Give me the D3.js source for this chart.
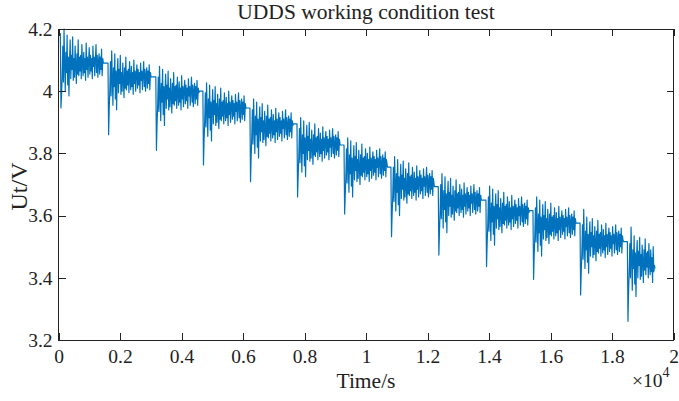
<!DOCTYPE html>
<html>
<head>
<meta charset="utf-8">
<script src="https://cdn.jsdelivr.net/npm/d3@7"></script>
<style>
  body { margin: 0; background: #fff; }
  text { font-family: "Liberation Serif", "Times New Roman", serif; fill: #222; }
</style>
</head>
<body>
<script>
// start of each UDDS cycle (s) and the voltage held just before it (mV)
const cycleStart = [60, 1610, 3165, 4695, 6225, 7755, 9285, 10810, 12350, 13900, 15430, 16960, 18500];
const restLevel = [4185, 4090, 4046, 4000, 3946, 3895, 3827, 3756, 3693, 3650, 3616, 3576, 3516];

// sample times inside a cycle (s after cycle start)
const sampleOffset = [20, 40, 60, 80, 100, 120, 140, 160, 180, 200, 220, 240, 260, 280, 300, 320, 340, 360, 380, 400,
  420, 440, 460, 480, 500, 520, 540, 560, 580, 600, 620, 640, 660, 680, 700, 720, 740, 760, 780, 800,
  820, 840, 860, 880, 900, 920, 940, 960, 980, 1000, 1020, 1040, 1060, 1080, 1100, 1120, 1140, 1160, 1180, 1200,
  1220, 1240, 1260, 1280, 1300, 1320, 1340, 1360, 1380, 1400];

// terminal voltage per cycle (mV)
const cycle1 = [3946, 3990, 4050, 4145, 4030, 4200, 4090, 4000, 4125, 4060, 4180,
  4020, 4110, 3985, 4100, 4165, 4040, 4115, 4070, 4175, 4035,
  4105, 4045, 4145, 4080, 4025, 4120, 4055, 4165, 4050, 4110,
  4065, 4115, 4040, 4150, 4085, 4050, 4125, 4060, 4105, 4035,
  4155, 4070, 4110, 4045, 4100, 4140, 4055, 4115, 4065, 4105,
  4040, 4145, 4080, 4110, 4050, 4100, 4150, 4060, 4115, 4045,
  4095, 4120, 4055, 4110, 4070, 4135, 4050, 4105, 4090];
const cycle2 = [3860, 3945, 4005, 4095, 3985, 4130, 4045, 3955, 4075, 4015, 4120,
  3975, 4065, 3940, 4055, 4105, 3995, 4070, 4025, 4115, 3990,
  4060, 4000, 4090, 4035, 3980, 4075, 4010, 4110, 4005, 4065,
  4020, 4070, 3995, 4095, 4040, 4005, 4080, 4015, 4060, 3990,
  4100, 4025, 4065, 4000, 4055, 4085, 4010, 4070, 4020, 4060,
  3995, 4090, 4035, 4065, 4005, 4055, 4095, 4015, 4070, 4000,
  4050, 4075, 4010, 4065, 4025, 4085, 4005, 4060, 4045];
const cycle3 = [3810, 3895, 3955, 4045, 3935, 4080, 3995, 3905, 4025, 3965, 4070,
  3925, 4015, 3890, 4005, 4055, 3945, 4020, 3975, 4065, 3940,
  4010, 3950, 4040, 3985, 3930, 4025, 3960, 4060, 3955, 4015,
  3970, 4020, 3945, 4045, 3990, 3955, 4030, 3965, 4010, 3940,
  4050, 3975, 4015, 3950, 4005, 4035, 3960, 4020, 3970, 4010,
  3945, 4040, 3985, 4015, 3955, 4005, 4045, 3965, 4020, 3950,
  4000, 4025, 3960, 4015, 3975, 4035, 3955, 4010, 3995];
const cycle4 = [3763, 3845, 3905, 3995, 3885, 4027, 3945, 3855, 3975, 3915, 4020,
  3875, 3965, 3840, 3955, 4005, 3895, 3970, 3925, 4015, 3890,
  3960, 3900, 3990, 3935, 3880, 3975, 3910, 4010, 3905, 3965,
  3920, 3970, 3895, 3995, 3940, 3905, 3980, 3915, 3960, 3890,
  4000, 3925, 3965, 3900, 3955, 3985, 3910, 3970, 3920, 3960,
  3895, 3990, 3935, 3965, 3905, 3955, 3995, 3915, 3970, 3900,
  3950, 3975, 3910, 3965, 3925, 3985, 3905, 3960, 3945];
const cycle5 = [3709, 3790, 3850, 3940, 3830, 3975, 3890, 3800, 3920, 3860, 3965,
  3820, 3910, 3785, 3900, 3950, 3840, 3915, 3870, 3960, 3835,
  3905, 3845, 3935, 3880, 3825, 3920, 3855, 3955, 3850, 3910,
  3865, 3915, 3840, 3940, 3885, 3850, 3925, 3860, 3905, 3835,
  3945, 3870, 3910, 3845, 3900, 3930, 3855, 3915, 3865, 3905,
  3840, 3935, 3880, 3910, 3850, 3900, 3940, 3860, 3915, 3845,
  3895, 3920, 3855, 3910, 3870, 3930, 3850, 3905, 3890];
const cycle6 = [3660, 3730, 3790, 3880, 3770, 3915, 3830, 3740, 3860, 3800, 3905,
  3760, 3850, 3725, 3840, 3890, 3780, 3855, 3810, 3900, 3775,
  3845, 3785, 3875, 3820, 3765, 3860, 3795, 3895, 3790, 3850,
  3805, 3855, 3780, 3880, 3825, 3790, 3865, 3800, 3845, 3775,
  3885, 3810, 3850, 3785, 3840, 3870, 3795, 3855, 3805, 3845,
  3780, 3875, 3820, 3850, 3790, 3840, 3880, 3800, 3855, 3785,
  3835, 3860, 3795, 3850, 3810, 3870, 3790, 3845, 3830];
const cycle7 = [3605, 3665, 3725, 3815, 3705, 3850, 3765, 3675, 3795, 3735, 3840,
  3695, 3785, 3660, 3775, 3825, 3715, 3790, 3745, 3835, 3710,
  3780, 3720, 3810, 3755, 3700, 3795, 3730, 3830, 3725, 3785,
  3740, 3790, 3715, 3815, 3760, 3725, 3800, 3735, 3780, 3710,
  3820, 3745, 3785, 3720, 3775, 3805, 3730, 3790, 3740, 3780,
  3715, 3810, 3755, 3785, 3725, 3775, 3815, 3735, 3790, 3720,
  3770, 3795, 3730, 3785, 3745, 3805, 3725, 3780, 3765];
const cycle8 = [3532, 3605, 3665, 3755, 3645, 3790, 3705, 3615, 3735, 3675, 3780,
  3635, 3725, 3600, 3715, 3765, 3655, 3730, 3685, 3775, 3650,
  3720, 3660, 3750, 3695, 3640, 3735, 3670, 3770, 3665, 3725,
  3680, 3730, 3655, 3755, 3700, 3665, 3740, 3675, 3720, 3650,
  3760, 3685, 3725, 3660, 3715, 3745, 3670, 3730, 3680, 3720,
  3655, 3750, 3695, 3725, 3665, 3715, 3755, 3675, 3730, 3660,
  3710, 3735, 3670, 3725, 3685, 3745, 3665, 3720, 3705];
const cycle9 = [3473, 3550, 3610, 3700, 3590, 3735, 3650, 3560, 3680, 3620, 3725,
  3580, 3670, 3545, 3660, 3710, 3600, 3675, 3630, 3720, 3595,
  3665, 3605, 3695, 3640, 3585, 3680, 3615, 3715, 3610, 3670,
  3625, 3675, 3600, 3700, 3645, 3610, 3685, 3620, 3665, 3595,
  3705, 3630, 3670, 3605, 3660, 3690, 3615, 3675, 3625, 3665,
  3600, 3695, 3640, 3670, 3610, 3660, 3700, 3620, 3675, 3605,
  3655, 3680, 3615, 3670, 3630, 3690, 3610, 3665, 3650];
const cycle10 = [3436, 3510, 3570, 3660, 3550, 3695, 3610, 3520, 3640, 3580, 3685,
  3540, 3630, 3505, 3620, 3670, 3560, 3635, 3590, 3680, 3555,
  3625, 3565, 3655, 3600, 3545, 3640, 3575, 3675, 3570, 3630,
  3585, 3635, 3560, 3660, 3605, 3570, 3645, 3580, 3625, 3555,
  3665, 3590, 3630, 3565, 3620, 3650, 3575, 3635, 3585, 3625,
  3560, 3655, 3600, 3630, 3570, 3620, 3660, 3580, 3635, 3565,
  3615, 3640, 3575, 3630, 3590, 3650, 3570, 3625, 3610];
const cycle11 = [3395, 3475, 3535, 3625, 3515, 3660, 3575, 3485, 3605, 3545, 3650,
  3505, 3595, 3470, 3585, 3635, 3525, 3600, 3555, 3645, 3520,
  3590, 3530, 3620, 3565, 3510, 3605, 3540, 3640, 3535, 3595,
  3550, 3600, 3525, 3625, 3570, 3535, 3610, 3545, 3590, 3520,
  3630, 3555, 3595, 3530, 3585, 3615, 3540, 3600, 3550, 3590,
  3525, 3620, 3565, 3595, 3535, 3585, 3625, 3545, 3600, 3530,
  3580, 3605, 3540, 3595, 3555, 3615, 3535, 3590, 3575];
const cycle12 = [3345, 3420, 3480, 3570, 3460, 3620, 3520, 3430, 3550, 3490, 3595,
  3450, 3540, 3415, 3530, 3580, 3470, 3545, 3500, 3590, 3465,
  3535, 3475, 3565, 3510, 3455, 3550, 3485, 3585, 3480, 3540,
  3495, 3545, 3470, 3570, 3515, 3480, 3555, 3490, 3535, 3465,
  3575, 3500, 3540, 3475, 3530, 3560, 3485, 3545, 3495, 3535,
  3470, 3565, 3510, 3540, 3480, 3530, 3570, 3490, 3545, 3475,
  3525, 3550, 3485, 3540, 3500, 3560, 3480, 3535, 3520];
const cycle13 = [3260, 3360, 3420, 3510, 3400, 3563, 3460, 3360, 3490, 3430, 3535,
  3380, 3480, 3340, 3470, 3520, 3400, 3485, 3440, 3530, 3395,
  3475, 3405, 3505, 3450, 3385, 3490, 3425, 3525, 3410, 3480,
  3435, 3485, 3400, 3510, 3445, 3410, 3490, 3420, 3465, 3385,
  3500, 3420, 3440, 3430];
const cycles = [cycle1, cycle2, cycle3, cycle4, cycle5, cycle6, cycle7, cycle8, cycle9, cycle10, cycle11, cycle12, cycle13];

const xTicks = [0, 2000, 4000, 6000, 8000, 10000, 12000, 14000, 16000, 18000, 20000];
const xTickLabels = ["0", "0.2", "0.4", "0.6", "0.8", "1", "1.2", "1.4", "1.6", "1.8", "2"];
const yTicks = [3.2, 3.4, 3.6, 3.8, 4.0, 4.2];
const yTickLabels = ["3.2", "3.4", "3.6", "3.8", "4", "4.2"];

// build the (time, voltage) series
const points = [];
cycles.forEach((vals, k) => {
  const restFrom = k === 0 ? 0 : cycleStart[k - 1] + sampleOffset[cycles[k - 1].length - 1] + 14;
  points.push({ t: restFrom, v: restLevel[k] / 1000 });
  points.push({ t: cycleStart[k], v: restLevel[k] / 1000 });
  vals.forEach((mv, i) => points.push({ t: cycleStart[k] + sampleOffset[i], v: mv / 1000 }));
});

const W = 679, H = 401;
const L = 58.5, R = 673.5, T = 29, B = 340;

const svg = d3.select("body").append("svg")
  .attr("width", W)
  .attr("height", H);

const x = d3.scaleLinear().domain([0, 20000]).range([L, R]);
const y = d3.scaleLinear().domain([3.2, 4.2]).range([B, T]);

// data line
svg.append("path")
  .datum(points)
  .attr("fill", "none")
  .attr("stroke", "#0072BD")
  .attr("stroke-width", 1.2)
  .attr("stroke-linejoin", "round")
  .attr("d", d3.line().x(d => x(d.t)).y(d => y(d.v)));

// axes, ticks pointing inward on all four sides
const fontSize = "19.5px";
svg.append("g")
  .attr("transform", "translate(0," + B + ")")
  .call(d3.axisBottom(x).tickValues(xTicks).tickSizeInner(-7).tickSizeOuter(0).tickPadding(9)
    .tickFormat((d, i) => xTickLabels[i]));
svg.append("g")
  .attr("transform", "translate(" + L + ",0)")
  .call(d3.axisLeft(y).tickValues(yTicks).tickSizeInner(-7).tickSizeOuter(0).tickPadding(6)
    .tickFormat((d, i) => yTickLabels[i]));
svg.append("g")
  .attr("transform", "translate(0," + T + ")")
  .call(d3.axisTop(x).tickValues(xTicks).tickSizeInner(-7).tickSizeOuter(0).tickFormat(""));
svg.append("g")
  .attr("transform", "translate(" + R + ",0)")
  .call(d3.axisRight(y).tickValues(yTicks).tickSizeInner(-7).tickSizeOuter(0).tickFormat(""));

svg.selectAll(".domain").remove();
svg.selectAll(".tick line").attr("stroke", "#222").attr("shape-rendering", "crispEdges");
svg.selectAll(".tick text")
  .style("font-family", "'Liberation Serif', 'Times New Roman', serif")
  .style("font-size", fontSize)
  .attr("fill", "#222");

svg.append("rect")
  .attr("x", L).attr("y", T)
  .attr("width", R - L).attr("height", B - T)
  .attr("fill", "none")
  .attr("stroke", "#222")
  .attr("shape-rendering", "crispEdges");

// titles
svg.append("text")
  .attr("x", (L + R) / 2).attr("y", 19)
  .attr("text-anchor", "middle")
  .style("font-size", "21.5px")
  .text("UDDS working condition test");

svg.append("text")
  .attr("x", 366).attr("y", 388)
  .attr("text-anchor", "middle")
  .style("font-size", "21.5px")
  .text("Time/s");

svg.append("text")
  .attr("transform", "translate(26.5,186.5) rotate(-90)")
  .attr("text-anchor", "middle")
  .style("font-size", "24px")
  .text("Ut/V");

const mult = svg.append("text")
  .attr("x", 632).attr("y", 387)
  .style("font-size", fontSize);
mult.append("tspan").text("\u00d710");
mult.append("tspan").attr("dy", -10).style("font-size", "14px").text("4");
</script>
</body>
</html>
